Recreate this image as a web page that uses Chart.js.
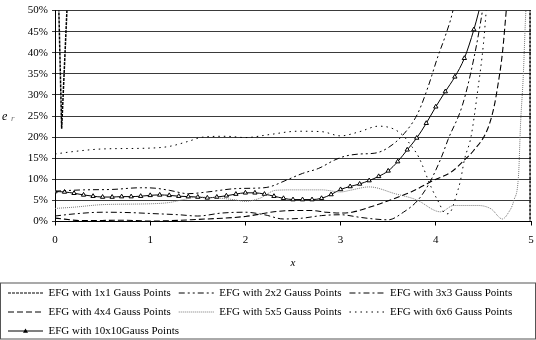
<!DOCTYPE html>
<html>
<head>
<meta charset="utf-8">
<script src="https://cdn.jsdelivr.net/npm/chart.js@4"></script>
<style>
  html, body { margin: 0; padding: 0; background: #fff; overflow: hidden; }
  #wrap { width: 536px; height: 340px; }
</style>
</head>
<body>
<div id="wrap"><canvas id="errChart" width="536" height="340"></canvas></div>
<script>
// relative error (%), x along the beam
var legendNames = ['EFG with 1x1 Gauss Points', 'EFG with 2x2 Gauss Points', 'EFG with 3x3 Gauss Points',
    'EFG with 4x4 Gauss Points', 'EFG with 5x5 Gauss Points', 'EFG with 6x6 Gauss Points',
    'EFG with 10x10Gauss Points'];

var x1 = [0.03, 0.07, 0.145, 2.5, 4.99, 4.99];
var e1 = [60, 22, 60, null, 60, 0];

var x2 = [0, 0.3, 0.6, 0.9, 1.05, 1.2, 1.4, 1.6, 1.9, 2.1, 2.25, 2.43, 2.6, 2.77, 2.94, 3.05, 3.2, 3.36, 3.5, 3.67, 3.81, 3.92, 4.02, 4.1, 4.18, 4.22];
var e2 = [7.2, 7.5, 7.6, 8.0, 7.9, 7.4, 6.6, 7.0, 7.8, 7.9, 8.2, 9.8, 11.4, 12.6, 14.6, 15.5, 16.0, 16.2, 17.5, 20.9, 25.6, 32, 39, 44, 50, 55];

var x3 = [0, 0.2, 0.5, 0.8, 1.0, 1.3, 1.5, 1.75, 2.0, 2.2, 2.4, 2.6, 2.8, 3.0, 3.2, 3.35, 3.5, 3.66, 3.81, 3.93, 4.06, 4.13, 4.28, 4.4, 4.49, 4.52];
var e3 = [1.3, 1.8, 2.2, 2.1, 1.9, 1.6, 1.3, 2.0, 2.2, 1.6, 0.6, 0.8, 1.4, 1.6, 1.0, 0.6, 0.4, 2.2, 5.0, 9.0, 15.3, 19.5, 27.6, 38.7, 50, 55];

var x4 = [0, 0.3, 0.7, 1.0, 1.5, 2.0, 2.3, 2.5, 2.7, 2.85, 3.0, 3.12, 3.36, 3.46, 3.74, 3.99, 4.16, 4.32, 4.4, 4.54, 4.61, 4.65, 4.7, 4.74, 4.76];
var e4 = [0.8, 0.2, 0.3, 0.1, 0.5, 1.2, 2.3, 2.6, 2.6, 2.2, 2.0, 2.2, 3.8, 4.6, 7.0, 9.9, 11.7, 15.0, 16.9, 21.7, 27, 32, 40, 50, 55];

var x5 = [0, 0.2, 0.5, 1.0, 1.2, 1.35, 1.5, 1.7, 1.87, 2.0, 2.15, 2.32, 2.53, 2.8, 3.0, 3.1, 3.3, 3.57, 3.81, 3.99, 4.05, 4.19, 4.44, 4.58, 4.7, 4.76, 4.82, 4.87, 4.89, 4.92, 4.94, 4.95];
var e5 = [3.1, 3.4, 4.0, 4.2, 4.5, 5.2, 5.8, 5.6, 5.2, 4.8, 5.5, 7.4, 7.5, 7.5, 7.0, 7.4, 8.2, 6.6, 5.0, 2.6, 2.3, 3.8, 3.8, 3.0, 0.6, 2.0, 5.0, 11.3, 23, 35, 47, 52];

var x6 = [0, 0.2, 0.5, 1.0, 1.2, 1.4, 1.55, 1.8, 2.0, 2.25, 2.55, 2.8, 3.0, 3.2, 3.4, 3.55, 3.65, 3.75, 3.82, 3.95, 4.02, 4.11, 4.16, 4.21, 4.26, 4.3, 4.37, 4.44, 4.5, 4.53, 4.55];
var e6 = [16.0, 16.6, 17.2, 17.4, 17.8, 19.0, 20.0, 20.2, 19.9, 20.6, 21.4, 21.3, 20.3, 21.3, 22.6, 22.0, 20.5, 17.7, 15.3, 8.2, 5.0, 1.8, 2.5, 5.8, 9.8, 14.6, 20.1, 31, 42, 50, 55];

var x10 = [0, 0.1, 0.2, 0.3, 0.4, 0.5, 0.6, 0.7, 0.8, 0.9, 1.0, 1.1, 1.2, 1.3, 1.4, 1.5, 1.6, 1.7, 1.8, 1.9, 2.0, 2.1, 2.2, 2.3, 2.4, 2.5, 2.6, 2.7, 2.8, 2.9, 3.0, 3.1, 3.2, 3.3, 3.4, 3.5, 3.6, 3.7, 3.8, 3.9, 4.0, 4.1, 4.2, 4.3, 4.4, 4.5];
var e10 = [7.1, 7.0, 6.7, 6.3, 6.0, 5.8, 5.8, 5.9, 5.9, 6.0, 6.2, 6.3, 6.2, 6.0, 5.9, 5.8, 5.6, 5.8, 6.1, 6.5, 6.8, 6.8, 6.5, 6.0, 5.5, 5.2, 5.2, 5.2, 5.5, 6.4, 7.6, 8.3, 8.9, 9.7, 10.7, 12.0, 14.2, 17.0, 19.8, 23.3, 27.2, 30.8, 34.3, 38.7, 45.5, 54];

var yTicks = [0, 5, 10, 15, 20, 25, 30, 35, 40, 45, 50];

function pts(xs, ys) {
    return xs.map(function (x, i) { return { x: x, y: ys[i] }; });
}

function serie(name, xs, ys, color, dash, width) {
    return {
        label: name,
        data: pts(xs, ys),
        borderColor: color,
        backgroundColor: color,
        borderWidth: width || 1,
        borderDash: dash,
        pointRadius: 0,
        cubicInterpolationMode: 'monotone',
        spanGaps: false
    };
}

var d1 = serie(legendNames[0], x1, e1, '#000', [3, 1], 1.5);
d1.cubicInterpolationMode = 'default';
d1.tension = 0;

var d10 = serie(legendNames[6], x10, e10, '#000', [], 1);
d10.pointRadius = 2.5;
d10.pointStyle = 'triangle';
d10.pointBackgroundColor = '#fff';
d10.pointBorderColor = '#000';
d10.pointBorderWidth = 1;

var datasets = [
    d1,
    serie(legendNames[1], x2, e2, '#000', [6, 3, 2, 3, 2, 3]),
    serie(legendNames[2], x3, e3, '#000', [6, 3, 2, 3]),
    serie(legendNames[3], x4, e4, '#000', [6, 3], 1.1),
    serie(legendNames[4], x5, e5, '#777', [1, 1]),
    serie(legendNames[5], x6, e6, '#000', [1.5, 4]),
    d10
];

var serif = "'Liberation Serif', 'Times New Roman', serif";

// e_r label sits horizontally left of the y ticks; legend gets a frame
var extras = {
    id: 'extras',
    afterDraw: function (chart) {
        var ctx = chart.ctx;
        ctx.save();
        ctx.fillStyle = '#000';
        ctx.textBaseline = 'middle';
        ctx.font = 'italic 12px ' + serif;
        ctx.fillText('e', 2, 117);
        ctx.fillStyle = '#777';
        ctx.font = 'italic 9px ' + serif;
        ctx.fillText('r', 11, 119);
        var lg = chart.legend;
        ctx.strokeStyle = '#555';
        ctx.lineWidth = 1;
        ctx.strokeRect(0.5, lg.top + 3.5, 535, 340 - lg.top - 4.5);
        // triangle marker on the 10x10 legend sample
        var hb = lg.legendHitBoxes[6];
        if (hb) {
            var cx = hb.left + 17.5, cy = hb.top + hb.height / 2;
            ctx.fillStyle = '#000';
            ctx.beginPath();
            ctx.moveTo(cx, cy - 2.5);
            ctx.lineTo(cx + 2.5, cy + 1.8);
            ctx.lineTo(cx - 2.5, cy + 1.8);
            ctx.closePath();
            ctx.fill();
        }
        ctx.restore();
    }
};

Chart.defaults.font.family = serif;
Chart.defaults.color = '#000';

new Chart(document.getElementById('errChart'), {
    type: 'line',
    data: { datasets: datasets },
    plugins: [extras],
    options: {
        responsive: false,
        animation: false,
        layout: { padding: { left: 0, right: 0, top: 5, bottom: -6.5 } },
        scales: {
            x: {
                type: 'linear',
                min: 0,
                max: 5,
                ticks: { stepSize: 1, padding: 8, font: { size: 11 }, maxRotation: 0 },
                grid: { drawOnChartArea: false, drawTicks: true, tickLength: 4, color: '#000' },
                border: { color: '#000', width: 1 },
                title: { display: true, text: 'x', font: { size: 11, style: 'italic' }, padding: { top: 8, bottom: 10 } },
                afterFit: function (axis) {
                    axis.height = 58;
                    axis.paddingRight = 0;
                }
            },
            y: {
                min: 0,
                max: 50,
                afterBuildTicks: function (axis) {
                    axis.ticks = yTicks.map(function (v) { return { value: v }; });
                },
                ticks: {
                    padding: 4,
                    font: { size: 11 },
                    callback: function (v) { return v + '%'; }
                },
                grid: { color: '#3a3a3a', lineWidth: 1, tickLength: 3 },
                border: { color: '#000', width: 1 },
                afterFit: function (axis) {
                    axis.width = 55;
                }
            }
        },
        plugins: {
            legend: {
                position: 'bottom',
                align: 'start',
                labels: {
                    usePointStyle: true,
                    pointStyle: 'line',
                    pointStyleWidth: 35,
                    padding: 8,
                    font: { size: 11 },
                    color: '#000',
                    generateLabels: function (chart) {
                        return chart.data.datasets.map(function (ds, i) {
                            return {
                                text: ds.label,
                                datasetIndex: i,
                                hidden: false,
                                fillStyle: ds.borderColor,
                                strokeStyle: ds.borderColor,
                                lineWidth: Math.min(ds.borderWidth, 1),
                                lineDash: ds.borderDash,
                                pointStyle: 'line',
                                fontColor: '#000'
                            };
                        });
                    }
                }
            },
            tooltip: { enabled: false }
        }
    }
});
</script>
</body>
</html>
